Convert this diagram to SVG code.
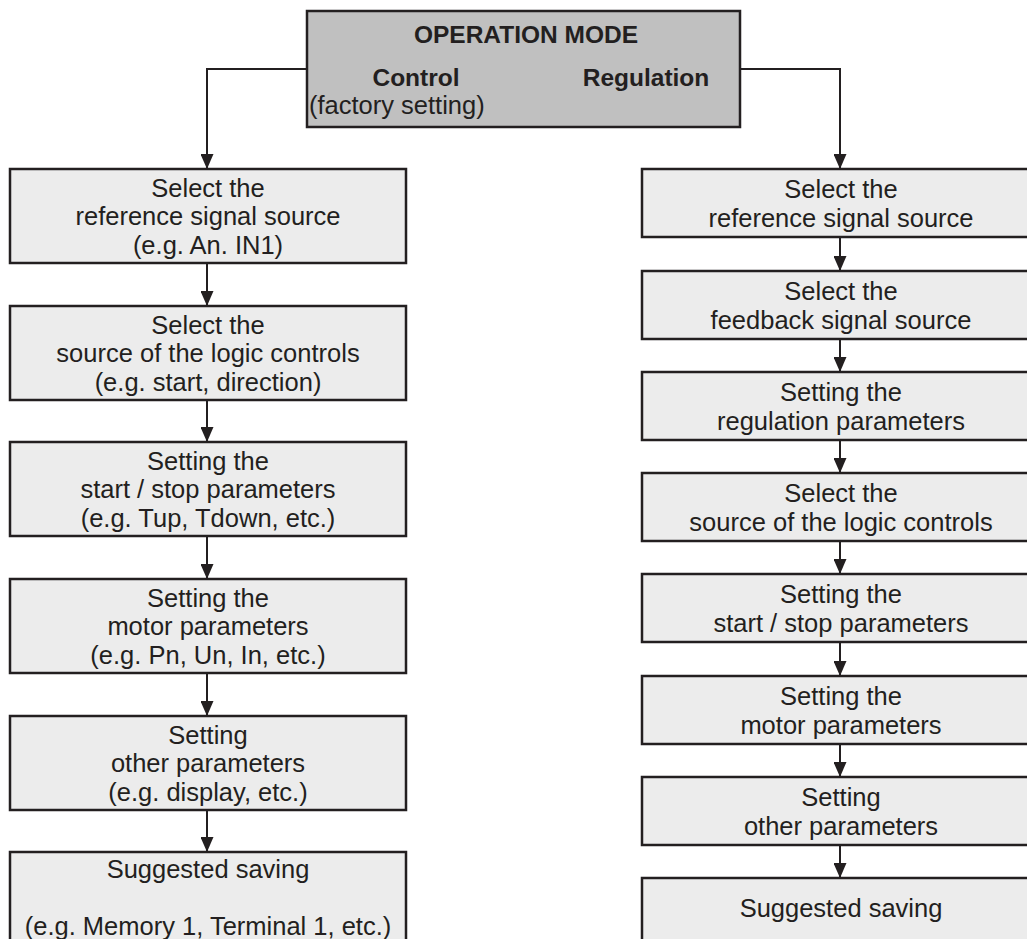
<svg xmlns="http://www.w3.org/2000/svg" width="1027" height="939" viewBox="0 0 1027 939">
<style>
  .box { fill: #ececec; stroke: #231f20; stroke-width: 2.5; }
  .top { fill: #c0c0c0; stroke: #231f20; stroke-width: 2.5; }
  .t { font-family: "Liberation Sans", Arial, sans-serif; font-size: 25.5px; fill: #231f20; text-anchor: middle; }
  .b { font-weight: bold; font-size: 24.5px; }
  .conn { fill: none; stroke: #231f20; stroke-width: 2; }
</style>
<defs>
  <marker id="ah" markerUnits="userSpaceOnUse" viewBox="0 0 15 13" refX="15" refY="6.5" markerWidth="15" markerHeight="13" orient="auto">
    <path d="M0,0 L15,6.5 L0,13 Z" fill="#231f20"/>
  </marker>
</defs>
<rect width="1027" height="939" fill="#ffffff"/>

<g id="connectors">
  <path class="conn" d="M307,69 H207 V169" marker-end="url(#ah)"/>
  <path class="conn" d="M740,69 H840 V169" marker-end="url(#ah)"/>
  <path class="conn" d="M207,263 V306" marker-end="url(#ah)"/>
  <path class="conn" d="M207,400 V442" marker-end="url(#ah)"/>
  <path class="conn" d="M207,536 V579" marker-end="url(#ah)"/>
  <path class="conn" d="M207,673 V716" marker-end="url(#ah)"/>
  <path class="conn" d="M207,810 V852" marker-end="url(#ah)"/>
  <path class="conn" d="M840,237 V271" marker-end="url(#ah)"/>
  <path class="conn" d="M840,339 V372" marker-end="url(#ah)"/>
  <path class="conn" d="M840,440 V473" marker-end="url(#ah)"/>
  <path class="conn" d="M840,541 V574" marker-end="url(#ah)"/>
  <path class="conn" d="M840,642 V676" marker-end="url(#ah)"/>
  <path class="conn" d="M840,744 V777" marker-end="url(#ah)"/>
  <path class="conn" d="M840,845 V878" marker-end="url(#ah)"/>
</g>

<g id="operation-mode">
  <rect class="top" x="307" y="11" width="433" height="116"/>
  <text class="t b" x="526" y="43">OPERATION MODE</text>
  <text class="t b" x="416" y="86">Control</text>
  <text class="t b" x="646" y="86">Regulation</text>
  <text class="t" x="309" y="114" style="text-anchor:start">(factory setting)</text>
</g>

<g id="L1">
  <rect class="box" x="10" y="169" width="396" height="94"/>
  <text class="t" x="208" y="197">Select the</text>
  <text class="t" x="208" y="225">reference signal source</text>
  <text class="t" x="208" y="254">(e.g. An. IN1)</text>
</g>
<g id="L2">
  <rect class="box" x="10" y="306" width="396" height="94"/>
  <text class="t" x="208" y="334">Select the</text>
  <text class="t" x="208" y="362">source of the logic controls</text>
  <text class="t" x="208" y="391">(e.g. start, direction)</text>
</g>
<g id="L3">
  <rect class="box" x="10" y="442" width="396" height="94"/>
  <text class="t" x="208" y="470">Setting the</text>
  <text class="t" x="208" y="498">start / stop parameters</text>
  <text class="t" x="208" y="527">(e.g. Tup, Tdown, etc.)</text>
</g>
<g id="L4">
  <rect class="box" x="10" y="579" width="396" height="94"/>
  <text class="t" x="208" y="607">Setting the</text>
  <text class="t" x="208" y="635">motor parameters</text>
  <text class="t" x="208" y="664">(e.g. Pn, Un, In, etc.)</text>
</g>
<g id="L5">
  <rect class="box" x="10" y="716" width="396" height="94"/>
  <text class="t" x="208" y="744">Setting</text>
  <text class="t" x="208" y="772">other parameters</text>
  <text class="t" x="208" y="801">(e.g. display, etc.)</text>
</g>
<g id="L6">
  <rect class="box" x="10" y="852" width="396" height="120"/>
  <text class="t" x="208" y="878">Suggested saving</text>
  <text class="t" x="208" y="935">(e.g. Memory 1, Terminal 1, etc.)</text>
</g>

<g id="R1">
  <rect class="box" x="642" y="169" width="398" height="68"/>
  <text class="t" x="841" y="198">Select the</text>
  <text class="t" x="841" y="227">reference signal source</text>
</g>
<g id="R2">
  <rect class="box" x="642" y="271" width="398" height="68"/>
  <text class="t" x="841" y="300">Select the</text>
  <text class="t" x="841" y="329">feedback signal source</text>
</g>
<g id="R3">
  <rect class="box" x="642" y="372" width="398" height="68"/>
  <text class="t" x="841" y="401">Setting the</text>
  <text class="t" x="841" y="430">regulation parameters</text>
</g>
<g id="R4">
  <rect class="box" x="642" y="473" width="398" height="68"/>
  <text class="t" x="841" y="502">Select the</text>
  <text class="t" x="841" y="531">source of the logic controls</text>
</g>
<g id="R5">
  <rect class="box" x="642" y="574" width="398" height="68"/>
  <text class="t" x="841" y="603">Setting the</text>
  <text class="t" x="841" y="632">start / stop parameters</text>
</g>
<g id="R6">
  <rect class="box" x="642" y="676" width="398" height="68"/>
  <text class="t" x="841" y="705">Setting the</text>
  <text class="t" x="841" y="734">motor parameters</text>
</g>
<g id="R7">
  <rect class="box" x="642" y="777" width="398" height="68"/>
  <text class="t" x="841" y="806">Setting</text>
  <text class="t" x="841" y="835">other parameters</text>
</g>
<g id="R8">
  <rect class="box" x="642" y="878" width="398" height="100"/>
  <text class="t" x="841" y="917">Suggested saving</text>
</g>
</svg>
